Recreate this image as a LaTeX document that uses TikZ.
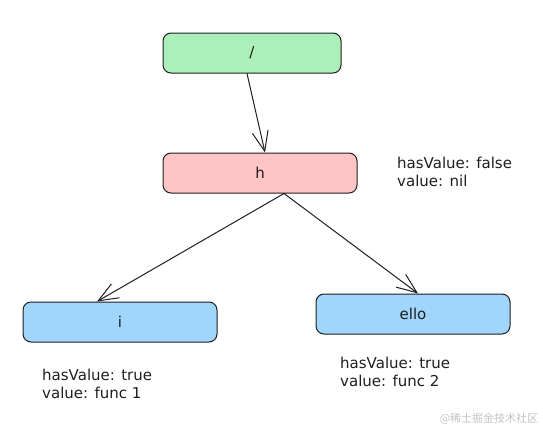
\documentclass[tikz,border=0pt]{standalone}
\usepackage{fontspec}
\setmainfont{DejaVu Sans}
\newfontfamily\cjkfont{Noto Sans CJK SC}
\usetikzlibrary{arrows.meta,positioning}
\definecolor{ink}    {HTML}{1E1E1E}
\definecolor{mint}   {HTML}{ABEFBA}
\definecolor{blush}  {HTML}{FFC4C4}
\definecolor{sky}    {HTML}{A0D5FD}
\definecolor{mark}   {HTML}{C4C4C4}

\tikzset{
  trienode/.style={draw=ink, line width=1pt, rounded corners=8pt,
    minimum height=40pt, text=ink, font=\fontsize{15}{18}\selectfont},
  notetext/.style={anchor=north west, inner sep=0pt, align=left,
    text=ink, font=\fontsize{15}{18}\selectfont},
  link/.style={draw=ink, line width=1pt,
    -{Straight Barb[length=20pt,width=16pt,line width=1pt]}}
}

\begin{document}
\begin{tikzpicture}[x=1pt,y=-1pt]
  \useasboundingbox (0,0) rectangle (543,434);

  % trie nodes
  \node[trienode, fill=mint,  minimum width=178pt] (root) at (252,53)  {/};
  \node[trienode, fill=blush, minimum width=194pt] (h)    at (260,173) {h};
  \node[trienode, fill=sky,   minimum width=194pt] (i)    at (120,322) {i};
  \node[trienode, fill=sky,   minimum width=194pt] (ello) at (413,314) {ello};

  % edges
  \draw[link] ([xshift=-5pt]root.south) -- ([xshift=5pt]h.north);
  \draw[link] ([xshift=24pt]h.south) -- ([xshift=-23pt]i.north);
  \draw[link] ([xshift=24pt]h.south) -- ([xshift=5pt]ello.north);

  % values
  \node[notetext] (hnote)    at (397,157) {hasValue: false\\value: nil};
  \node[notetext] (inote)    at (42,369)  {hasValue: true\\value: func 1};
  \node[notetext] (ellonote) at (340,357) {hasValue: true\\value: func 2};

  \node[text=mark, font=\cjkfont\fontsize{11}{13}\selectfont] (wm) at (489,419) {@稀土掘金技术社区};
\end{tikzpicture}
\end{document}
